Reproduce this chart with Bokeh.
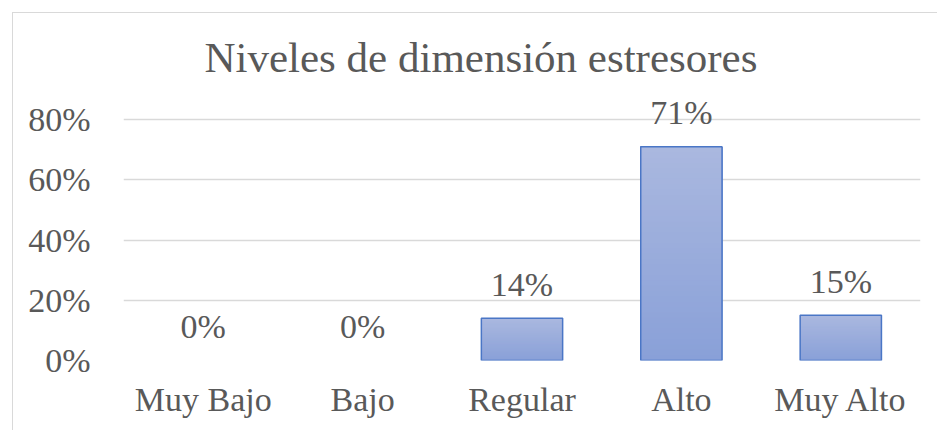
from bokeh.plotting import figure
from bokeh.models import FactorRange, Range1d, FixedTicker, NumeralTickFormatter, ColumnDataSource
from bokeh.embed import file_html
from bokeh.resources import INLINE
from bokeh.core.properties import value

categories = ["Muy Bajo", "Bajo", "Regular", "Alto", "Muy Alto"]
values = [0.0, 0.0, 0.14, 0.71, 0.15]
labels = ["0%", "0%", "14%", "71%", "15%"]
y_ticks = [0, 0.2, 0.4, 0.6, 0.8]
title_text = "Niveles de dimensión estresores"

FONT = "Liberation Serif"
TEXT = "#595959"
GRID = "#d9d9d9"
TOP_C = (0xAA, 0xB8, 0xDF)
BOT_C = (0x89, 0xA0, 0xD8)
BAR_W = 0.51

p = figure(x_range=FactorRange(factors=categories), y_range=Range1d(0, 0.9),
           width=925, height=418, output_backend="svg", toolbar_location=None,
           min_border_left=110, min_border_right=18, min_border_top=76, min_border_bottom=71)
p.styles = {"margin-left": "12px", "margin-top": "12px",
            "border-left": "1px solid #d9d9d9", "border-top": "1px solid #d9d9d9"}

# gradient bars: overlapping slices, bottom (dark) to top (light)
N = 40
sx, sb, st, sc = [], [], [], []
for cat, v in zip(categories, values):
    if v <= 0:
        continue
    for k in range(N):
        t = (k + 0.5) / N
        c = tuple(int(round(BOT_C[j] + (TOP_C[j] - BOT_C[j]) * t)) for j in range(3))
        sx.append(cat)
        sb.append(v * k / N)
        st.append(v)
        sc.append("#%02x%02x%02x" % c)
p.vbar(x=sx, bottom=sb, top=st, width=BAR_W, fill_color=sc, line_color=None)

nz = [(c, v) for c, v in zip(categories, values) if v > 0]
p.vbar(x=[c for c, _ in nz], top=[v for _, v in nz], width=BAR_W,
       fill_alpha=0, line_color="#4a76c6", line_width=1.5)

src = ColumnDataSource(dict(x=categories, y=values, t=labels))
p.text(x="x", y="y", text="t", source=src, text_align="center", text_baseline="alphabetic",
       y_offset=-34, text_font=value(FONT), text_font_size="34px", text_color=TEXT)

p.title.text = title_text
p.title.align = "left"
p.title.offset = 81
p.title.standoff = 18
p.title.text_font = FONT
p.title.text_font_size = "43px"
p.title.text_font_style = "normal"
p.title.text_color = TEXT

p.xgrid.grid_line_color = None
p.ygrid.ticker = FixedTicker(ticks=y_ticks)
p.ygrid.grid_line_color = GRID
p.ygrid.grid_line_width = 1.5
p.yaxis.ticker = FixedTicker(ticks=y_ticks)
p.yaxis.formatter = NumeralTickFormatter(format="0%")

for ax in (p.xaxis[0], p.yaxis[0]):
    ax.axis_line_color = None
    ax.major_tick_line_color = None
    ax.minor_tick_line_color = None
    ax.major_label_text_font = FONT
    ax.major_label_text_font_size = "34px"
    ax.major_label_text_color = TEXT
p.yaxis.major_label_standoff = 27
p.xaxis.major_label_standoff = 14
p.outline_line_color = None

open("out.html", "w").write(file_html(p, INLINE))
